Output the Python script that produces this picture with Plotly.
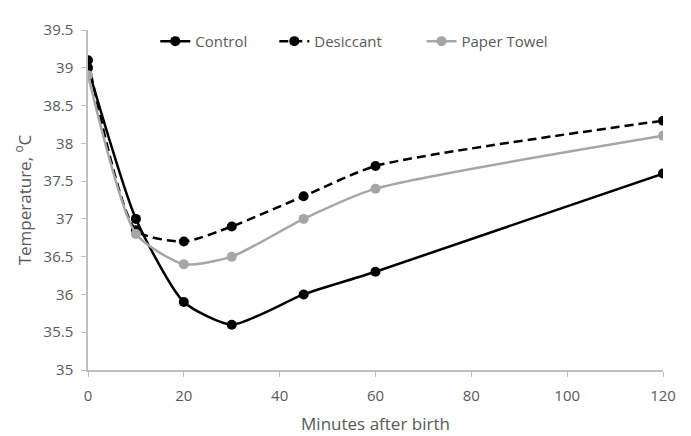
import plotly.graph_objects as go

minutes = [0, 10, 20, 30, 45, 60, 120]
control = [39.0, 37.0, 35.9, 35.6, 36.0, 36.3, 37.6]
desiccant = [39.1, 36.85, 36.7, 36.9, 37.3, 37.7, 38.3]
paper_towel = [38.9, 36.8, 36.4, 36.5, 37.0, 37.4, 38.1]

x_ticks = [0, 20, 40, 60, 80, 100, 120]
y_ticks = [35, 35.5, 36, 36.5, 37, 37.5, 38, 38.5, 39, 39.5]

font_family = "Open Sans, Liberation Sans, sans-serif"
grey_text = "#595959"
axis_col = "#BFBFBF"

fig = go.Figure()
series = [
    ("Control", control, "#000000", "solid", "legend", 0.117),
    ("Desiccant", desiccant, "#000000", "9px,5px", "legend2", 0.324),
    ("Paper Towel", paper_towel, "#A6A6A6", "solid", "legend3", 0.58),
]
legends = {}
for name, vals, col, dash, lg, lx in series:
    fig.add_trace(go.Scatter(
        x=minutes, y=vals, name=name, mode="lines+markers", legend=lg,
        line=dict(color=col, width=2.5, dash=dash, shape="spline", smoothing=0.6),
        marker=dict(color=col, size=10),
    ))
    legends[lg] = dict(orientation="h", x=lx, y=1.015, xanchor="left", yanchor="top",
                       font=dict(size=15, color=grey_text), bgcolor="rgba(0,0,0,0)")

fig.update_layout(
    width=691, height=436,
    margin=dict(l=80, r=36, t=11, b=74),
    paper_bgcolor="white", plot_bgcolor="white",
    font=dict(family=font_family, size=15, color=grey_text),
    showlegend=True,
    **legends,
    xaxis=dict(range=[0, 120], tickvals=x_ticks, ticktext=[str(v) for v in x_ticks],
               showgrid=False, zeroline=False, showline=True, linecolor=axis_col, linewidth=1.5,
               ticks="outside", ticklen=5, tickcolor=axis_col, ticklabelstandoff=6,
               tickfont=dict(size=15, color=grey_text),
               title=dict(text="Minutes after birth", font=dict(size=17, color=grey_text), standoff=14)),
    yaxis=dict(range=[35, 39.5], tickvals=y_ticks, ticktext=[f"{v:g}" for v in y_ticks],
               showgrid=False, zeroline=False, showline=True, linecolor=axis_col, linewidth=1.5,
               ticks="outside", ticklen=5, tickcolor=axis_col, ticklabelstandoff=5,
               tickfont=dict(size=15, color=grey_text),
               title=dict(text="Temperature, <sup>o</sup>C", font=dict(size=17, color=grey_text), standoff=8)),
)

fig.write_html("out.html")
